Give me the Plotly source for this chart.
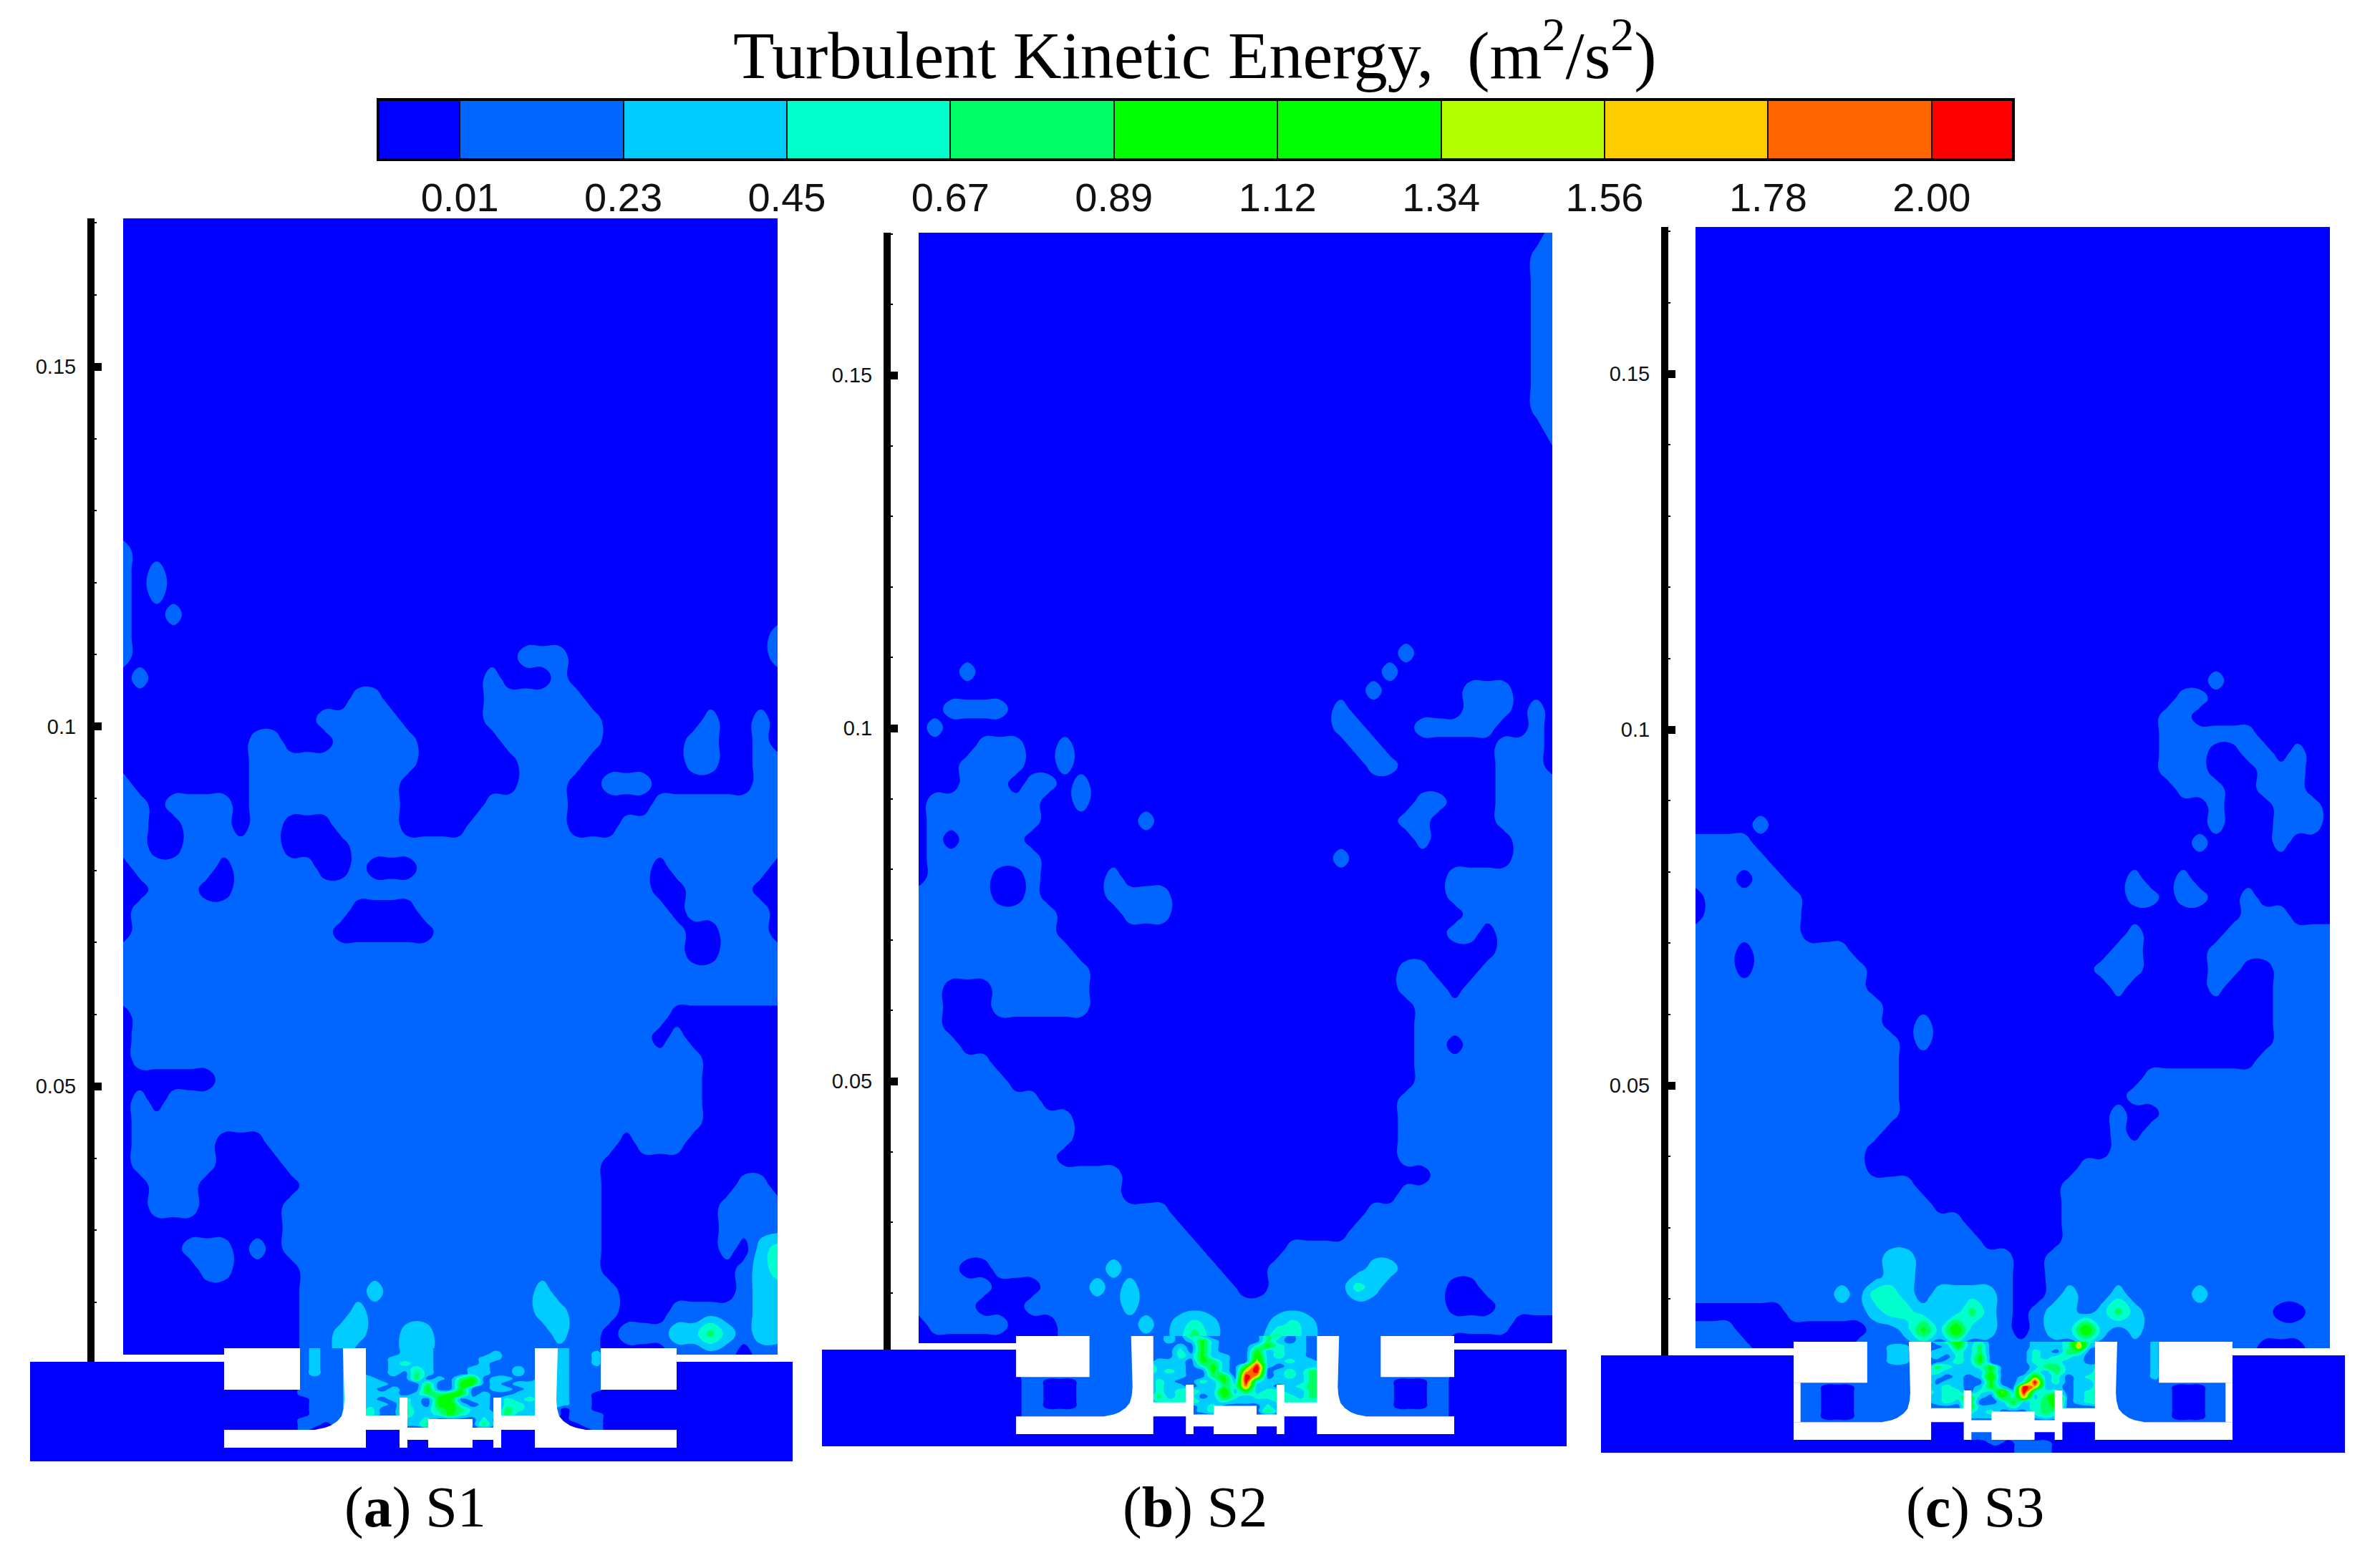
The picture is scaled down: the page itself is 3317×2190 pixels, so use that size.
import numpy as np
import plotly.graph_objects as go

W, H = 3317, 2190
# the page body keeps an 8 px margin, so the figure is drawn that much smaller and shifted
PAGE_MARGIN = 8
FIG_W, FIG_H = W - PAGE_MARGIN, H - PAGE_MARGIN


def fx(px):
    return (px - PAGE_MARGIN) / FIG_W


def fy(py):
    return 1 - (py - PAGE_MARGIN) / FIG_H


# ---- colour bands and tick labels ----
BAND_COLORS = ["#0000ff", "#0066ff", "#00ccff", "#00ffcc", "#00ff66", "#00ff00",
               "#00ff00", "#b3ff00", "#ffcc00", "#ff6600", "#ff0000"]
TICK_VALUES = [0.01, 0.2311, 0.4522, 0.6733, 0.8944, 1.1156, 1.3367, 1.5578, 1.7789, 2.0]
TICK_TEXT = ["0.01", "0.23", "0.45", "0.67", "0.89", "1.12", "1.34", "1.56", "1.78", "2.00"]
LEVEL_STEP = (2.0 - 0.01) / 9

TKE = {".": -0.1, "1": 0.12, "2": 0.34, "3": 0.56, "4": 0.78, "5": 1.0,
       "6": 1.22, "7": 1.45, "8": 1.67, "9": 1.89, "R": 2.2}

D = ".........."
L = "1111111111"

# ---- S1 chamber, 40 x 40 samples ----
S1_CHAMBER = [
    [D, D, D, D], ["1.........", D, D, D], ["1.1.......", D, D, D], ["1.1.......", D, D, D],
    ["1..1......", D, D, D],
    ["1.........", D, D, ".........1"],
    ["1.........", D, "....111...", ".........1"],
    [".1........", D, "..1...1...", D],
    [D, "....11....", "..111111..", D],
    [D, "..11111...", "..1111111.", ".....1..1."],
    ["........11", "...11111..", "...111111.", "....11..1."],
    ["........11", "11111111..", "....1111..", "....11..11"],
    ["1.......11", "1111111...", "....111..1", "11......11"],
    ["11.1111.11", "1111111...", "..11111...", "..11111111"],
    ["11..111.11", "...1111...", ".111111...", L],
    ["11..111111", "....111111", L, L],
    [".11111.111", "11..1...11", L, "11.111111."],
    ["..111..111", L, L, "11..1111.."],
    [".111111111", "1111....11", L, "111.11111."],
    [".111111111", "111......1", L, "1111..111."],
    [L, L, L, "1111..1111"],
    [L, L, L, L],
    [L, L, L, L],
    [".111111111", L, L, "111......."],
    [".111111111", L, L, "11.1......"],
    [".111111111", L, L, "11111....."],
    ["......1111", L, L, "11111....."],
    [".1.1111111", L, L, "11111....."],
    [".111111111", L, L, "11111....."],
    [".11111...1", L, L, ".111......"],
    [".11111....", L, "111111111.", D],
    ["..111.....", ".111111111", "111111111.", ".......11."],
    ["..111.....", L, "111111111.", "......1111"],
    [D, L, "111111111.", "......1111"],
    ["....111.1.", L, "111111111.", "......1.23"],
    [".....11...", ".111111111", "111111111.", ".......123"],
    [D, ".111121111", "1111121111", ".......122"],
    [D, ".111211111", "1111122111", "...1111122"],
    [D, ".112211221", "111111211.", "1112242122"],
    [D, ".112111221", "111111111.", "...1111.11"],
]

# ---- S2 chamber ----
S2_CHAMBER = [
    [D, D, D, D], [D, D, D, D],
    [D, D, D, "1........."],
    ["...1......", D, ".........1", D],
    [D, D, "........1.", "....111..."],
    ["..1111....", D, "......1...", "....111.1."],
    [".1........", D, "......11..", ".11111..1."],
    ["....111..1", D, ".......11.", "......111."],
    ["...1111..1", D, "........11", "......111."],
    ["...111.11.", "1.........", D, "......1111"],
    [".1111111..", "1.........", D, ".11...1111"],
    [".1111111..", "....1.....", D, "11....1111"],
    [".1.1111...", D, D, ".1.....111"],
    [".1111111..", D, "......1...", ".......111"],
    [".1111..1..", "..1.......", D, "...1111111"],
    ["11111..1..", "..1111....", D, "...1111111"],
    ["111111111.", "...111....", D, "....111111"],
    ["111111111.", D, D, "...11.1111"],
    [L, D, D, "......1111"],
    [L, "1.........", D, "11...11111"],
    ["11...11111", "1.........", D, "111.111111"],
    ["11...11111", "1.........", D, ".111111111"],
    ["11........", D, D, ".111111111"],
    ["111.......", D, D, ".11.111111"],
    ["11111.....", D, D, ".111111111"],
    ["111111....", D, D, ".111111111"],
    ["11111111..", D, D, L],
    [L, D, D, L],
    [L, D, D, L],
    ["111111111.", D, D, L],
    [L, "111.......", D, "..11111111"],
    [L, "111.......", D, L],
    [L, "111111....", "........11", L],
    [L, "1111111...", ".......111", L],
    [L, "11111111..", "...1111111", L],
    ["111..11111", "112111111.", "..11111122", L],
    ["11111...11", "1212111111", "..11111321", "111..11111"],
    ["1111...111", "1112111111", L, "111...1111"],
    [".11111...1", "1111212321", "1123211111", "1111111..."],
    [".........1", "1111112521", "1153211111", "111......."],
]

# strip along the right wall of S2, higher up
S2_WALL_STRIP = ["...1", "..11", "..11", "..11", "..11", "..11", "..11", "..11", "...1", "...."]

# ---- S3 chamber ----
S3_CHAMBER = [
    [D, D, D, D], [D, D, D, D],
    [D, D, D, "..1......."],
    [D, D, D, "11........"],
    [D, D, ".........1", "1........."],
    [D, D, ".........1", "11111....."],
    [D, D, ".........1", "11..11.1.."],
    [D, D, ".........1", "11...111.."],
    [D, D, D, "111..111.."],
    [D, D, D, "..1...111."],
    ["....1.....", D, D, "..1...111."],
    ["1111......", D, D, ".1....1..."],
    ["11111.....", D, D, D],
    ["111.11....", D, ".......1..", "1........."],
    [".111111...", D, ".......11.", "11..1....."],
    [".111111...", D, D, "....111..."],
    ["1111111...", D, ".......1..", "...1111111"],
    ["111.111111", D, "......11..", "..11111111"],
    ["111.111111", "1.........", ".....111..", "..11..1111"],
    [L, "1.........", "......1...", "..1...1111"],
    [L, "11........", D, "......1111"],
    [L, "11..1.....", D, "......1111"],
    [L, "111.1.....", D, "......1111"],
    [L, "111.......", D, ".....11111"],
    [L, "111.......", "........11", L],
    [L, "111.......", ".......111", L],
    [L, "111.......", "......1..1", L],
    [L, "11........", "......1.11", L],
    [L, "1.........", "......1111", L],
    [L, "1.........", "....111111", L],
    [L, "1111......", "...1111111", L],
    [L, "11111.....", "...1111111", L],
    [L, "1111111...", "...1111111", L],
    [L, "11111111..", "...1111111", L],
    [L, "1122111111", "..11111111", L],
    [L, "1122111111", "..11111111", L],
    ["1111111112", "1332122221", "..12112111", "1211111111"],
    ["......1111", "1233222421", ".122124211", "111111..11"],
    ["111.......", ".112526221", ".122621211", L],
    ["1111......", L, L, "11111...11"],
]

# ---- burner throat, 41 x 17 samples ----
S1_THROAT = [
    [".......121", "1221112221", "1111111122", "2111......", "."],
    [".......121", "1221112221", "1111211122", "2112......", "."],
    [".......121", "1221122221", "1112211122", "2112......", "."],
    [".......121", "1221123221", "1112111122", "2112......", "."],
    [".......121", "1221122321", "1122112122", "2111......", "."],
    [".......121", "1221121421", "1122112122", "2111......", "."],
    [".......111", "1222111412", "1451221122", "2111......", "."],
    [".......111", "1222211141", "1551212222", "2111......", "."],
    [".......111", "1222121151", "1511221222", "2111......", "."],
    [".......111", "1222221244", "5512112222", "211.......", "."],
    ["........11", "1222123215", "5122132322", "211.......", "."],
    ["........11", "1222213215", "6212133222", "211.......", "."],
    ["........11", "1223114224", "5422143222", ".11.......", "."],
    ["........11", "1223114223", "5322242222", ".111......", "."],
    [".......111", "1111112231", "1113111111", ".111......", "."],
    [".......11.", "1111112241", "1114111111", "..11......", "."],
    [".......1..", D, D, "...1......", "."],
]

S2_THROAT = [
    [".......111", "1111214211", "1114312111", "1111......", "."],
    [".......111", "1111212521", "1114212111", "1111......", "."],
    [".......111", "1111121521", "1135322111", "1111......", "."],
    [".......111", "1111131521", "1152322111", "1111......", "."],
    [".......111", "1111132522", "1162322111", "1111......", "."],
    [".......111", "1112221542", "1172232211", "1111......", "."],
    [".......111", "1142221352", "15R2122221", "1111......", "."],
    [".......111", "1152321152", "18R1232431", "1111......", "."],
    [".111111111", "1112221145", "1R81232431", L, "."],
    [".11...1111", "1113211325", "2R32222431", "11111...11", "."],
    [".11...1111", "1113221224", "3922123431", "11111...11", "."],
    [".11...1111", "1113234226", "2523322431", "11111...11", "."],
    [".11...1111", "1114233125", "3233332431", "11111...11", "."],
    [".11...1111", "1113334223", "2222333331", "11111...11", "."],
    [".11...1111", "1111111231", "1113111111", "11111...11", "."],
    [".111111111", "1111111231", "1114211111", L, "."],
    [".111111111", D, D, L, "."],
]

S3_THROAT = [
    [".......111", "1112362311", "1122237321", "1112......", "."],
    [".......112", "2111252411", "1122238211", "1112......", "."],
    [".......112", "2112232411", "1132144111", "1112......", "."],
    [".......112", "2112132511", "1132332111", "1112......", "."],
    [".......112", "2111232511", "1133322111", "1112......", "."],
    [".......111", "1114322351", "1124422231", "1112......", "."],
    [".......111", "1143222251", "1132422241", "1112......", "."],
    [".......111", "1112121261", "1262312341", "1112......", "."],
    [".111111111", "1151221151", "13R2312241", L, "."],
    [".11...1111", "1112321252", "1R82212241", "11111...11", "."],
    [".11...1111", "1152331327", "2R33312341", "11111...11", "."],
    [".11...1111", "1112335215", "3824712341", "11111...11", "."],
    [".11...1111", "1112325112", "5234612341", "11111...11", "."],
    [".11...1111", "1111115222", "3234511111", "11111...11", "."],
    [".11...1111", "1111113231", "1134311111", "11111...11", "."],
    [".11...1111", "1111112221", "1123211111", "11111...11", "."],
    [".111111111", D, D, L, "."],
]

# tail that leaks below the burner plate in S3
S3_BELOW_PLATE = ["11111...", "11111...", "..1.111.", "....111.", "....111."]

# panel frames in page pixels
PANELS = [
    dict(name="a", left=42, right=1107, top=305, low_top=1902, low_bottom=2041,
         room_left=172, room_right=1086, room_bottom=1892, axis=122, samp_top=740,
         y15=512, k=10050, cx=629, hw=316, b_top=1883, b_bottom=2022,
         chamber=S1_CHAMBER, throat=S1_THROAT),
    dict(name="b", left=1148, right=2188, top=325, low_top=1885, low_bottom=2020,
         room_left=1283, room_right=2168, room_bottom=1876, axis=1234, samp_top=860,
         y15=524, k=9860, cx=1725, hw=306, b_top=1866, b_bottom=2003,
         chamber=S2_CHAMBER, throat=S2_THROAT),
    dict(name="c", left=2236, right=3275, top=317, low_top=1893, low_bottom=2029,
         room_left=2368, room_right=3254, room_bottom=1883, axis=2320, samp_top=900,
         y15=522, k=9940, cx=2811.5, hw=306.5, b_top=1874, b_bottom=2011,
         chamber=S3_CHAMBER, throat=S3_THROAT),
]

# burner outline, half drawn then mirrored (S1 pixels from centre / block top)
WALL_TOP = [(-150, 0), (-118, 0), (-118, 94), (-71, 94), (-71, 69), (-60, 69), (-60, 111), (-31, 111), (-31, 99)]
PLATE_LOW = [(-316, 139), (-316, 114), (-189, 114), (-175, 111), (-167, 108), (-158, 102), (-152, 95), (-149, 84), (-148, 72)]
PLATE_UNDER = [(-31, 139), (-31, 128), (-60, 128), (-60, 139), (-71, 139), (-71, 114), (-118, 114), (-118, 139)]


def field(rows):
    rows = ["".join(r) if not isinstance(r, str) else r for r in rows]
    assert len({len(r) for r in rows}) == 1, [len(r) for r in rows]
    return [[TKE[ch] for ch in r] for r in rows]


def band_trace(z, x, y, xa, ya, show_scale=False):
    kw = dict(
        z=z, x=x, y=y, xaxis=xa, yaxis=ya, hoverinfo="skip",
        autocontour=False,
        contours=dict(start=0.01, end=2.0, size=LEVEL_STEP, coloring="fill", showlines=show_scale),
        colorscale=[[i / 10, c] for i, c in enumerate(BAND_COLORS)],
        line=dict(width=2 if show_scale else 0, color="#111111", smoothing=1.3),
        showscale=show_scale,
    )
    if show_scale:
        kw["colorbar"] = dict(
            orientation="h", x=fx(528 + 2284 / 2), xanchor="center", y=fy(139), yanchor="top",
            len=2284 / FIG_W, lenmode="fraction", thickness=84, thicknessmode="pixels", xpad=0, ypad=0,
            outlinecolor="black", outlinewidth=4, tickmode="array", tickvals=TICK_VALUES, ticktext=TICK_TEXT,
            ticks="outside", ticklen=3, tickcolor="rgba(0,0,0,0)",
            tickfont=dict(family="Liberation Sans", size=56, color="#111111"),
        )
    return go.Contour(**kw)


def poly_path(points, p):
    sx, sy = p["hw"] / 316, (p["b_bottom"] - p["b_top"]) / 139
    parts = []
    for i, (dx, dy) in enumerate(points):
        px, py = p["cx"] + dx * sx, p["b_top"] + dy * sy
        parts.append(f"{'M' if i == 0 else 'L'}{fx(px):.5f},{fy(py):.5f}")
    return "".join(parts) + "Z"


def white(points, p):
    return dict(type="path", xref="paper", yref="paper", path=poly_path(points, p),
                fillcolor="white", line=dict(width=0), layer="above")


fig = go.Figure()
shapes = []
layout_axes = {}

for i, p in enumerate(PANELS):
    xa, ya = ("x", "y") if i == 0 else (f"x{i + 1}", f"y{i + 1}")
    xkey = "xaxis" if i == 0 else f"xaxis{i + 1}"
    ykey = "yaxis" if i == 0 else f"yaxis{i + 1}"

    def to_m(px, p=p):
        return 0.15 + (p["y15"] - px) / p["k"]

    layout_axes[xkey] = dict(domain=[fx(p["left"]), fx(p["right"])], range=[p["left"], p["right"]],
                             visible=False, anchor=ya)
    layout_axes[ykey] = dict(
        domain=[fy(p["low_bottom"]), fy(p["top"])],
        range=[to_m(p["low_bottom"]), to_m(p["top"])],
        anchor="free", position=fx(p["axis"] + 5), side="left", layer="below traces",
        showgrid=False, zeroline=False, showline=True, linewidth=10, linecolor="black",
        tickmode="array", tickvals=[0.05, 0.1, 0.15], ticktext=["0.05", "0.1", "0.15"],
        ticks="inside", ticklen=10, tickwidth=11, tickcolor="black", ticklabelstandoff=10,
        tickfont=dict(family="Liberation Sans", size=29, color="#111111"),
        minor=dict(dtick=0.01, tick0=0, ticks="inside", ticklen=3, tickwidth=2, tickcolor="black"),
    )

    # plain lower block under the burner level
    fig.add_trace(band_trace(field(["..", ".."]), [p["left"], p["right"]],
                             [to_m(p["low_bottom"]), to_m(p["low_top"])], xa, ya))

    # the room above
    z = field(p["chamber"])
    samp_y = np.linspace(p["samp_top"], p["room_bottom"], len(z))
    room_y = [p["top"]] + list(samp_y)
    z = [[TKE["."]] * len(z[0])] + z
    fig.add_trace(band_trace(z[::-1], list(np.linspace(p["room_left"], p["room_right"], len(z[0]))),
                             [to_m(v) for v in room_y][::-1], xa, ya))

    if p["name"] == "b":
        strip = field(S2_WALL_STRIP)
        fig.add_trace(band_trace(strip[::-1], [2108, 2128, 2148, 2168],
                                 [to_m(v) for v in np.linspace(324, 640, len(strip))][::-1], xa, ya))

    # burner throat on top
    t = field(p["throat"])
    sy = (p["b_bottom"] - p["b_top"]) / 139
    t_y = np.linspace(p["b_top"], p["b_top"] + 114 * sy, len(t))
    fig.add_trace(band_trace(t[::-1], list(np.linspace(p["cx"] - p["hw"], p["cx"] + p["hw"], len(t[0]))),
                             [to_m(v) for v in t_y][::-1], xa, ya))

    if p["name"] == "c":
        b = field(S3_BELOW_PLATE)
        fig.add_trace(band_trace(b[::-1], list(2220 + np.linspace(760, 935, len(b[0])) / 1.429),
                                 [to_m(1750 + v / 3.03) for v in [845, 825, 805, 780, 755]], xa, ya))

    # burner body, white
    right_top = [(-x, y) for x, y in WALL_TOP[::-1]]
    right_low = [(-x, y) for x, y in PLATE_LOW[::-1]]
    under_right = [(-x, y) for x, y in PLATE_UNDER[::-1]]
    outline = WALL_TOP + right_top + right_low + under_right + PLATE_UNDER + PLATE_LOW
    shapes.append(white(outline, p))
    for sgn in (-1, 1):
        shapes.append(white([(sgn * 316, 0), (sgn * 210, 0), (sgn * 210, 58), (sgn * 316, 58)], p))
        if p["name"] == "c":
            shapes.append(white([(sgn * 316, 58), (sgn * 306, 58), (sgn * 306, 114), (sgn * 316, 114)], p))

# colour bar comes from a sample that sits outside the axis range
fig.add_trace(band_trace([[-0.1, 2.2], [-0.1, 2.2]], [-50, -40], [0.1, 0.11], "x", "y", show_scale=True))

annotations = [
    dict(text="Turbulent Kinetic Energy,\u00a0\u00a0(m<sup>2</sup>/s<sup>2</sup>)", x=fx(1668), y=fy(70),
         font=dict(family="Liberation Serif", size=94, color="black")),
    dict(text="(<b>a</b>) S1", x=fx(580), y=fy(2105), font=dict(family="Liberation Serif", size=80, color="black")),
    dict(text="(<b>b</b>) S2", x=fx(1669), y=fy(2105), font=dict(family="Liberation Serif", size=80, color="black")),
    dict(text="(<b>c</b>) S3", x=fx(2758), y=fy(2105), font=dict(family="Liberation Serif", size=80, color="black")),
]
for a in annotations:
    a.update(xref="paper", yref="paper", showarrow=False, xanchor="center", yanchor="middle")

fig.update_layout(
    width=FIG_W, height=FIG_H, margin=dict(l=0, r=0, t=0, b=0), paper_bgcolor="white", plot_bgcolor="white",
    showlegend=False, shapes=shapes, annotations=annotations, **layout_axes,
)

fig.write_html("out.html")
